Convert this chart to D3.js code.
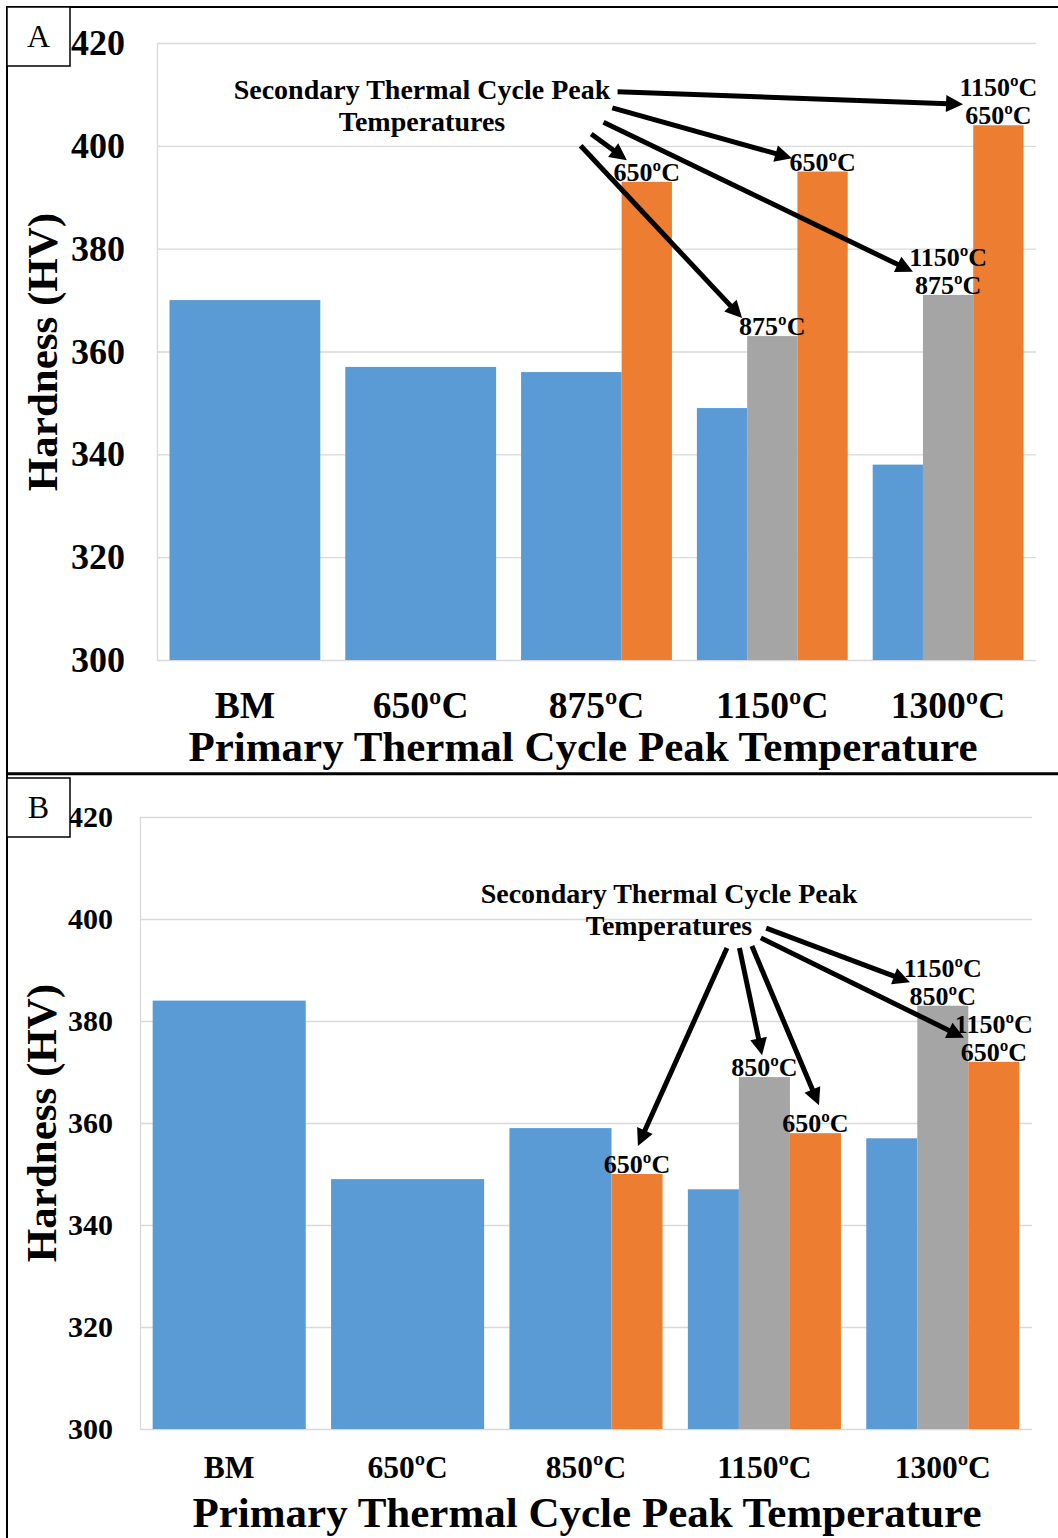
<!DOCTYPE html>
<html>
<head>
<meta charset="utf-8">
<script src="https://cdn.jsdelivr.net/npm/d3@7"></script>
<style>
  html, body { margin: 0; padding: 0; background: #fff; }
</style>
</head>
<body>
<svg id="fig" width="1058" height="1538"></svg>
<script>
// ---- Panel A: hardness after primary + secondary thermal cycles ----
const catsA = ["BM", "650ºC", "875ºC", "1150ºC", "1300ºC"];
const primaryA = [370, 357, 356, 349, 338];          // single (primary) cycle
const secondHighA = [null, null, null, 363, 371];    // secondary 875ºC / 1150+875ºC
const second650A = [null, null, 393, 395, 404];      // secondary 650ºC / 1150+650ºC
const highLabelsA = [null, null, null, ["875ºC"], ["1150ºC", "875ºC"]];
const lowLabelsA = [null, null, ["650ºC"], ["650ºC"], ["1150ºC", "650ºC"]];
// arrows: [from category-position, from HV, to category-position, to HV]
const arrowsA = [
  [2.62, 410.5, 4.585, 408.1],
  [2.59, 407.4, 3.612, 397.6],
  [2.54, 404.6, 4.300, 375.5],
  [2.47, 402.3, 2.673, 397.2],
  [2.41, 400.0, 3.328, 366.5]
];

// ---- Panel B ----
const catsB = ["BM", "650ºC", "850ºC", "1150ºC", "1300ºC"];
const primaryB = [384, 349, 359, 347, 357];
const secondHighB = [null, null, null, 369, 383];
const second650B = [null, null, 350, 358, 372];
const highLabelsB = [null, null, null, ["850ºC"], ["1150ºC", "850ºC"]];
const lowLabelsB = [null, null, ["650ºC"], ["650ºC"], ["1150ºC", "650ºC"]];
const arrowsB = [
  [3.51, 398.2, 4.316, 387.6],
  [3.48, 396.3, 4.619, 376.7],
  [3.29, 394.3, 2.791, 355.5],
  [3.36, 394.3, 3.487, 373.3],
  [3.43, 394.7, 3.806, 363.5]
];

const hvTicks = [300, 320, 340, 360, 380, 400, 420];
const noteLines = ["Secondary Thermal Cycle Peak", "Temperatures"];
const xTitle = "Primary Thermal Cycle Peak Temperature";
const yTitle = "Hardness (HV)";

const SERIF = "'Liberation Serif', 'Times New Roman', serif";
const BLUE = "#5b9bd5", GRAY = "#a5a5a5", ORANGE = "#ed7d31", GRID = "#d9d9d9";

const svg = d3.select("#fig");
svg.append("rect").attr("width", 1058).attr("height", 1538).attr("fill", "#fff");

function drawPanel(o) {
  const g = svg.append("g");
  const x = d3.scaleBand().domain(o.cats).range([o.left, o.right])
    .paddingInner(0.142).paddingOuter(0.071);
  const u = d3.scaleLinear().domain([0, o.cats.length]).range([o.left, o.right]);
  const y = d3.scaleLinear().domain([300, 420]).range([o.bottom, o.top]);

  // value axis with full-width gridlines
  const axis = d3.axisLeft(y).tickValues(hvTicks)
    .tickSize(-(o.right - o.left)).tickSizeOuter(0).tickPadding(o.tickPad)
    .tickFormat(d3.format("d"));
  const ga = g.append("g").attr("transform", `translate(${o.left},0)`).call(axis);
  ga.select(".domain").attr("stroke", GRID).attr("stroke-width", 1.3);
  ga.selectAll(".tick line").attr("stroke", GRID).attr("stroke-width", 1.3);
  ga.selectAll(".tick text")
    .attr("font-family", SERIF).attr("font-weight", "bold")
    .attr("font-size", o.tickSize).attr("fill", "#000");

  const bw = x.bandwidth(), slot = bw / 3;
  const rows = o.cats.map((c, i) => ({
    c, p: o.primary[i], h: o.high[i], l: o.low[i],
    hl: o.highLabels[i], ll: o.lowLabels[i]
  }));

  rows.forEach(r => {
    const nSec = (r.h != null ? 1 : 0) + (r.l != null ? 1 : 0);
    const x0 = x(r.c);
    g.append("rect").attr("x", x0).attr("width", slot * (3 - nSec))
      .attr("y", y(r.p)).attr("height", y(300) - y(r.p)).attr("fill", BLUE);
    if (r.h != null) {
      g.append("rect").attr("x", x0 + slot).attr("width", slot)
        .attr("y", y(r.h)).attr("height", y(300) - y(r.h)).attr("fill", GRAY);
    }
    if (r.l != null) {
      g.append("rect").attr("x", x0 + 2 * slot).attr("width", slot)
        .attr("y", y(r.l)).attr("height", y(300) - y(r.l)).attr("fill", ORANGE);
    }
  });

  // bar-top labels naming the secondary cycle temperatures
  function barLabel(lines, cx, top) {
    const n = lines.length;
    lines.forEach((t, k) => {
      g.append("text").attr("x", cx).attr("y", top - 1 - (n - 1 - k) * 28)
        .attr("text-anchor", "middle").attr("font-family", SERIF)
        .attr("font-weight", "bold").attr("font-size", 26).attr("fill", "#000")
        .text(t);
    });
  }
  rows.forEach(r => {
    if (r.hl) barLabel(r.hl, x(r.c) + slot * 1.5, y(r.h));
    if (r.ll) barLabel(r.ll, x(r.c) + slot * 2.5, y(r.l));
  });

  // category labels
  g.selectAll(null).data(o.cats).join("text")
    .attr("x", d => x(d) + bw / 2).attr("y", o.catY)
    .attr("text-anchor", "middle").attr("font-family", SERIF)
    .attr("font-weight", "bold").attr("font-size", o.catSize).attr("fill", "#000")
    .text(d => d);

  // axis titles
  g.append("text").attr("x", o.titleX).attr("y", o.titleY)
    .attr("text-anchor", "middle").attr("font-family", SERIF)
    .attr("font-weight", "bold").attr("font-size", 43).attr("fill", "#000")
    .text(xTitle);
  g.append("text")
    .attr("transform", `translate(${o.yTitleX},${o.yTitleY}) rotate(-90)`)
    .attr("text-anchor", "middle").attr("font-family", SERIF)
    .attr("font-weight", "bold").attr("font-size", 43).attr("fill", "#000")
    .text(yTitle);

  // callout text
  noteLines.forEach((t, k) => {
    g.append("text").attr("x", o.noteX).attr("y", o.noteY + k * 32)
      .attr("text-anchor", "middle").attr("font-family", SERIF)
      .attr("font-weight", "bold").attr("font-size", 28).attr("fill", "#000")
      .text(t);
  });

  // callout arrows
  const headL = 17, headW = 8.5;
  o.arrows.forEach(a => {
    const x1 = u(a[0]), y1 = y(a[1]), x2 = u(a[2]), y2 = y(a[3]);
    const dx = x2 - x1, dy = y2 - y1, len = Math.hypot(dx, dy);
    const ux = dx / len, uy = dy / len;
    const bx = x2 - ux * headL, by = y2 - uy * headL;
    g.append("line").attr("x1", x1).attr("y1", y1)
      .attr("x2", bx + ux * 2).attr("y2", by + uy * 2)
      .attr("stroke", "#000").attr("stroke-width", 5);
    g.append("path")
      .attr("d", `M${x2},${y2}L${bx - uy * headW},${by + ux * headW}L${bx + uy * headW},${by - ux * headW}Z`)
      .attr("fill", "#000");
  });

  // panel letter box
  g.append("rect").attr("x", 7).attr("y", o.boxY).attr("width", 63).attr("height", 59)
    .attr("fill", "#fff").attr("stroke", "#000").attr("stroke-width", 1.5);
  g.append("text").attr("x", 38.5).attr("y", o.boxY + 40)
    .attr("text-anchor", "middle").attr("font-family", SERIF)
    .attr("font-size", 32).attr("fill", "#000").text(o.letter);
}

// frame lines
svg.append("line").attr("x1", 6).attr("y1", 7).attr("x2", 1058).attr("y2", 7)
  .attr("stroke", "#000").attr("stroke-width", 2);
svg.append("line").attr("x1", 7).attr("y1", 6).attr("x2", 7).attr("y2", 1538)
  .attr("stroke", "#000").attr("stroke-width", 2);
svg.append("line").attr("x1", 6).attr("y1", 773.7).attr("x2", 1058).attr("y2", 773.7)
  .attr("stroke", "#000").attr("stroke-width", 3);

drawPanel({
  letter: "A", boxY: 7,
  cats: catsA, primary: primaryA, high: secondHighA, low: second650A,
  highLabels: highLabelsA, lowLabels: lowLabelsA, arrows: arrowsA,
  left: 157, right: 1036, top: 43, bottom: 660,
  tickPad: 32, tickSize: 36, catY: 718, catSize: 37.5,
  titleX: 583, titleY: 761, yTitleX: 57, yTitleY: 352,
  noteX: 422, noteY: 99
});

drawPanel({
  letter: "B", boxY: 778,
  cats: catsB, primary: primaryB, high: secondHighB, low: second650B,
  highLabels: highLabelsB, lowLabels: lowLabelsB, arrows: arrowsB,
  left: 140, right: 1032, top: 817, bottom: 1429,
  tickPad: 27, tickSize: 30, catY: 1478, catSize: 31.5,
  titleX: 587, titleY: 1527, yTitleX: 56, yTitleY: 1123,
  noteX: 669, noteY: 903
});
</script>
</body>
</html>
